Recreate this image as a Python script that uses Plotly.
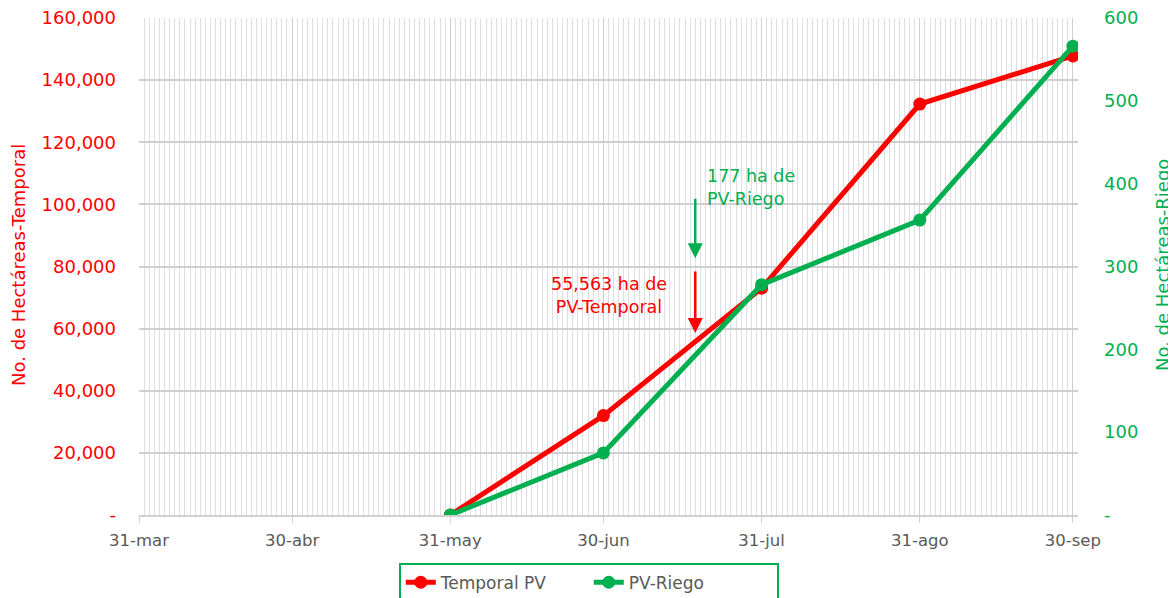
import plotly.graph_objects as go

# Data
dates = ["2024-05-31", "2024-06-30", "2024-07-31", "2024-08-31", "2024-09-30"]
temporal_pv = [0, 32000, 73000, 132300, 147800]
pv_riego = [0, 75, 278, 356, 566]

tick_dates = ["2024-03-31", "2024-04-30", "2024-05-31", "2024-06-30",
              "2024-07-31", "2024-08-31", "2024-09-30"]
tick_labels = ["31-mar", "30-abr", "31-may", "30-jun", "31-jul", "31-ago", "30-sep"]

left_vals = [0, 20000, 40000, 60000, 80000, 100000, 120000, 140000, 160000]
left_text = ["-"] + [f"{v:,}" for v in left_vals[1:]]
right_vals = [0, 100, 200, 300, 400, 500, 600]
right_text = ["-"] + [str(v) for v in right_vals[1:]]

RED = "#FF0000"
GREEN = "#00B050"
GRAY = "#595959"
FONT = "DejaVu Sans"

fig = go.Figure()
fig.add_trace(go.Scatter(x=dates, y=temporal_pv, name="Temporal PV",
                         mode="lines+markers",
                         line=dict(color=RED, width=5),
                         marker=dict(color=RED, size=13), yaxis="y"))
fig.add_trace(go.Scatter(x=dates, y=pv_riego, name="PV-Riego",
                         mode="lines+markers",
                         line=dict(color=GREEN, width=5),
                         marker=dict(color=GREEN, size=13), yaxis="y2"))

# page body has an 8px margin, so the figure is offset by 8px
fig.update_layout(
    width=1168, height=590,
    margin=dict(l=131, r=98, t=10, b=83, autoexpand=False),
    plot_bgcolor="white", paper_bgcolor="white",
    font=dict(family=FONT, size=16, color=GRAY),
    showlegend=True,
    legend=dict(orientation="h", x=0.479, xanchor="center", y=-0.096, yanchor="top",
                bordercolor=GREEN, borderwidth=2, font=dict(size=17, color=GRAY),
                entrywidth=143, entrywidthmode="pixels", tracegroupgap=0),
    xaxis=dict(type="date", range=["2024-03-31", "2024-10-01"],
               tickvals=tick_dates, ticktext=tick_labels,
               tickfont=dict(size=16.5, color=GRAY), automargin=False,
               showgrid=True, gridcolor="#cfcfcf", gridwidth=1,
               ticks="outside", ticklen=6, tickcolor="#d0d0d0",
               showline=True, linecolor="#d0d0d0", linewidth=1.5,
               ticklabelstandoff=3, ticklabeloverflow="allow",
               minor=dict(dtick=86400000, tick0="2024-03-31", showgrid=True,
                          gridcolor="#dedede", gridwidth=1),
               zeroline=False, mirror=False),
    yaxis=dict(range=[0, 160000], tickvals=left_vals, ticktext=left_text,
               tickfont=dict(size=18, color=RED), automargin=False,
               showgrid=True, gridcolor="#cfcfcf", gridwidth=1.5,
               zeroline=False, ticks="", ticklabelstandoff=22,
               ticklabeloverflow="allow"),
    yaxis2=dict(range=[0, 600], tickvals=right_vals, ticktext=right_text,
                overlaying="y", side="right", automargin=False,
                tickfont=dict(size=18, color=GREEN),
                showgrid=False, zeroline=False, ticks="", ticklabelstandoff=25,
                ticklabeloverflow="allow"),
)

# Axis titles
fig.add_annotation(x=-0.1289, y=0.503, xref="paper", yref="paper",
                   text="No. de Hectáreas-Temporal", textangle=-90, showarrow=False,
                   xanchor="center", yanchor="middle",
                   font=dict(size=18, color=RED))
fig.add_annotation(x=1.0895, y=0.503, xref="paper", yref="paper",
                   text="No. de Hectáreas-Riego", textangle=-90, showarrow=False,
                   xanchor="center", yanchor="middle",
                   font=dict(size=18, color=GREEN))

# Arrows
fig.add_annotation(x="2024-07-18", y=310, xref="x", yref="y2", text="",
                   showarrow=True, ax=0, ay=-61, arrowhead=2, arrowsize=1.2,
                   arrowwidth=2.5, arrowcolor=GREEN)
fig.add_annotation(x="2024-07-18", y=58600, xref="x", yref="y", text="",
                   showarrow=True, ax=0, ay=-63, arrowhead=2, arrowsize=1.2,
                   arrowwidth=2.5, arrowcolor=RED)
# Labels
fig.add_annotation(x="2024-07-20", y=105500, xref="x", yref="y",
                   text="177 ha de<br>PV-Riego", showarrow=False,
                   xanchor="left", align="left",
                   font=dict(size=17.5, color=GREEN))
fig.add_annotation(x="2024-07-01", y=70800, xref="x", yref="y",
                   text="55,563 ha de<br>PV-Temporal", showarrow=False,
                   xanchor="center", align="center",
                   font=dict(size=17.5, color=RED))

fig.write_html("out.html")
